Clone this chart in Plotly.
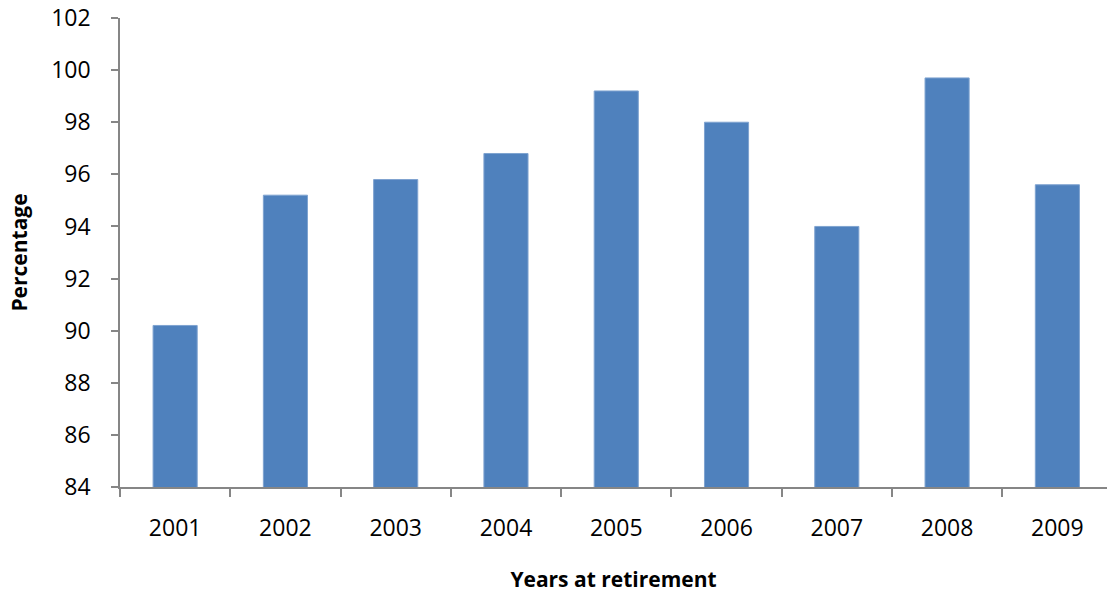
import plotly.graph_objects as go

# Share of members by year of retirement
years = ["2001", "2002", "2003", "2004", "2005", "2006", "2007", "2008", "2009"]
percentage = [90.2, 95.2, 95.8, 96.8, 99.2, 98.0, 94.0, 99.7, 95.6]
y_ticks = [84, 86, 88, 90, 92, 94, 96, 98, 100, 102]

axis_grey = "#868686"
font_family = "Open Sans"

fig = go.Figure(
    go.Bar(
        x=years,
        y=percentage,
        marker=dict(color="#4F81BD", line=dict(color="#7FA3D0", width=1)),
    )
)

fig.update_layout(
    width=1107,
    height=593,
    margin=dict(l=120, r=0, t=18, b=106),
    paper_bgcolor="white",
    plot_bgcolor="white",
    bargap=0.6,
    showlegend=False,
    font=dict(family=font_family, color="black"),
)

fig.update_xaxes(
    type="category",
    range=[-0.5, 8.45],
    showline=True,
    linecolor=axis_grey,
    linewidth=1.5,
    ticks="outside",
    tickson="boundaries",
    ticklen=8,
    tickcolor=axis_grey,
    tickwidth=1.5,
    showgrid=False,
    tickfont=dict(size=23, family=font_family),
    ticklabelstandoff=20,
    title=dict(
        text="<b>Years at retirement</b>",
        font=dict(size=21, family=font_family),
        standoff=30,
    ),
)

fig.update_yaxes(
    range=[84, 102],
    tickvals=y_ticks,
    showline=True,
    linecolor=axis_grey,
    linewidth=1.5,
    ticks="outside",
    ticklen=7,
    tickcolor=axis_grey,
    tickwidth=1.5,
    showgrid=False,
    zeroline=False,
    tickfont=dict(size=23, family=font_family),
    ticklabelstandoff=16,
    title=dict(
        text="<b>Percentage</b>",
        font=dict(size=21, family=font_family),
        standoff=18,
    ),
)

fig.write_html("out.html")
